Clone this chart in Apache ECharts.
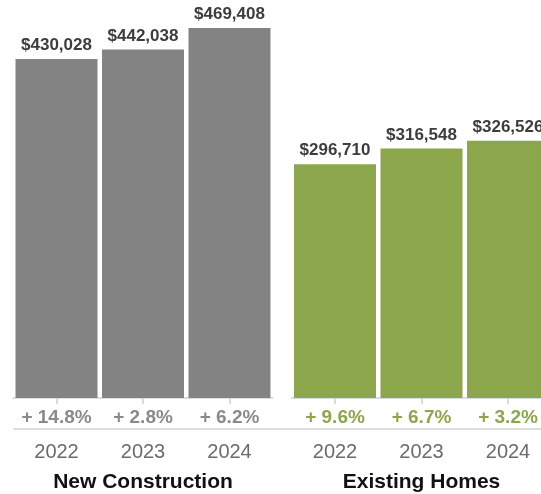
<!DOCTYPE html>
<html>
<head>
<meta charset="utf-8">
<script src="https://cdn.jsdelivr.net/npm/echarts@6/dist/echarts.min.js"></script>
<style>
  html, body { margin: 0; padding: 0; background: #ffffff; }
  #chart { width: 541px; height: 494px; }
</style>
</head>
<body>
<div id="chart"></div>
<script>
const years = ['2022', '2023', '2024'];
const newConstruction = [430028, 442038, 469408];
const existingHomes = [296710, 316548, 326526];
const newChange = ['+ 14.8%', '+ 2.8%', '+ 6.2%'];
const existingChange = ['+ 9.6%', '+ 6.7%', '+ 3.2%'];
const groupNames = ['New Construction', 'Existing Homes'];

const FONT = '"Liberation Sans", Arial, Helvetica, sans-serif';
const GRAY = '#838383';
const GREEN = '#8ca64c';

const chart = echarts.init(document.getElementById('chart'), null, { renderer: 'canvas' });

function money(v) { return '$' + v.toLocaleString('en-US'); }

function yearAxis(gridIndex, name) {
  return {
    type: 'category', gridIndex: gridIndex, data: years, position: 'bottom', offset: 31,
    axisLine: { show: true, lineStyle: { color: '#dddddd', width: 2 } },
    axisTick: { show: true, alignWithLabel: true, length: 6, lineStyle: { color: '#d0d0d0', width: 1.5 } },
    axisLabel: { margin: 13, fontSize: 20, color: '#6b6b6b', fontFamily: FONT, interval: 0, hideOverlap: false },
    splitLine: { show: false }, splitArea: { show: false },
    name: name, nameLocation: 'middle', nameGap: 43,
    nameTextStyle: { fontSize: 21, fontWeight: 'bold', color: '#111111', fontFamily: FONT }
  };
}
function changeAxis(gridIndex, labels, color) {
  return {
    type: 'category', gridIndex: gridIndex, data: labels, position: 'bottom', offset: 0,
    axisLine: { show: false }, axisTick: { show: false },
    splitLine: { show: false }, splitArea: { show: false },
    axisLabel: { margin: 10, fontSize: 19, fontWeight: 'bold', color: color, fontFamily: FONT, interval: 0, hideOverlap: false }
  };
}
function valueAxis(gridIndex) {
  return {
    type: 'value', gridIndex: gridIndex, min: 0, max: 505000, show: false,
    axisLine: { show: false }, axisTick: { show: false }, axisLabel: { show: false },
    splitLine: { show: false }, splitArea: { show: false }
  };
}
function barSeries(axisIndex, data, color) {
  return {
    type: 'bar', xAxisIndex: axisIndex, yAxisIndex: axisIndex === 0 ? 0 : 1,
    data: data, barCategoryGap: '5.2%',
    itemStyle: { color: color },
    label: {
      show: true, position: 'top', distance: 5,
      fontSize: 17, fontWeight: 'bold', color: '#3d3d3d', fontFamily: FONT,
      formatter: p => money(p.value)
    },
    silent: true, animation: false
  };
}

const option = {
  animation: false,
  backgroundColor: '#ffffff',
  grid: [
    { left: 13.25, width: 259.5, top: 0, bottom: 96, outerBoundsMode: 'none', containLabel: false },
    { left: 291.75, width: 259.5, top: 0, bottom: 96, outerBoundsMode: 'none', containLabel: false },
    { left: 14, right: 0, top: 427, bottom: 65, outerBoundsMode: 'none', containLabel: false, show: false }
  ],
  xAxis: [
    yearAxis(0, groupNames[0]),
    yearAxis(1, groupNames[1]),
    changeAxis(0, newChange, '#8a8a8a'),
    changeAxis(1, existingChange, GREEN),
    {
      type: 'category', gridIndex: 2, data: [''], position: 'bottom', offset: 0,
      axisLine: { show: true, onZero: false, lineStyle: { color: '#dddddd', width: 2 } },
      axisTick: { show: false }, axisLabel: { show: false },
      splitLine: { show: false }, splitArea: { show: false }
    }
  ],
  yAxis: [
    valueAxis(0),
    valueAxis(1),
    {
      type: 'category', gridIndex: 2, data: [''], position: 'right', show: false,
      axisLine: { show: false, onZero: false }, axisTick: { show: false }, axisLabel: { show: false },
      splitLine: { show: false }, splitArea: { show: false }
    }
  ],
  series: [
    barSeries(0, newConstruction, GRAY),
    barSeries(1, existingHomes, GREEN)
  ]
};
chart.setOption(option);
</script>
</body>
</html>
